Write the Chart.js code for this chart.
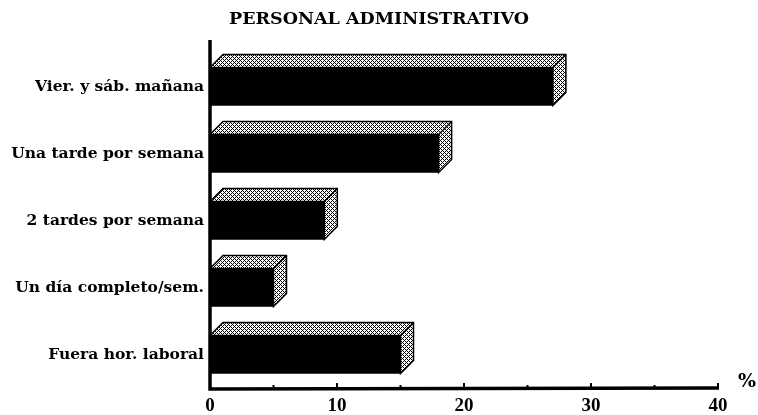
<!DOCTYPE html>
<html lang="es">
<head>
<meta charset="UTF-8">
<title>Personal administrativo</title>
<script src="https://cdn.jsdelivr.net/npm/chart.js@4.4.0/dist/chart.umd.min.js"></script>
<style>
  html, body { margin: 0; padding: 0; background: #fff; }
</style>
</head>
<body>
<canvas id="chart" width="758" height="415"></canvas>
<script>
// data
const categories = ["Vier. y sáb. mañana", "Una tarde por semana", "2 tardes por semana", "Un día completo/sem.", "Fuera hor. laboral"];
const values = [27, 18, 9, 5, 15];
const xTicks = [0, 10, 20, 30, 40];
const chartTitle = "PERSONAL ADMINISTRATIVO";
const unitLabel = "%";

const FONT = "'DejaVu Serif', serif";
const NUMFONT = "'Liberation Serif', 'Times New Roman', serif";
const DX = 13, DY = 13; // 3d depth offset

// halftone-ish fill for top/side faces
function makeHatch() {
  const c = document.createElement('canvas');
  c.width = 4; c.height = 4;
  const g = c.getContext('2d');
  g.fillStyle = '#fff';
  g.fillRect(0, 0, 4, 4);
  g.fillStyle = '#000';
  for (let x = 0; x < 4; x++) {
    for (let y = 0; y < 4; y++) {
      if ((x + y) % 4 === 0 || (x - y + 4) % 4 === 0) g.fillRect(x, y, 1, 1);
    }
  }
  return g.createPattern(c, 'repeat');
}
const hatch = makeHatch();

const box3d = {
  id: 'box3d',
  afterDatasetsDraw(chart) {
    const ctx = chart.ctx;
    const meta = chart.getDatasetMeta(0);
    meta.data.forEach(bar => {
      const p = bar.getProps(['x', 'y', 'base', 'height'], true);
      const top = p.y - p.height / 2, bot = p.y + p.height / 2;
      ctx.save();
      ctx.fillStyle = hatch;
      ctx.strokeStyle = '#000';
      ctx.lineWidth = 1.5;
      ctx.beginPath();
      ctx.moveTo(p.base, top);
      ctx.lineTo(p.base + DX, top - DY);
      ctx.lineTo(p.x + DX, top - DY);
      ctx.lineTo(p.x + DX, bot - DY);
      ctx.lineTo(p.x, bot);
      ctx.lineTo(p.x, top);
      ctx.closePath();
      ctx.fill();
      ctx.stroke();
      ctx.beginPath();
      ctx.moveTo(p.x, top);
      ctx.lineTo(p.x + DX, top - DY);
      ctx.stroke();
      ctx.restore();
    });
  },
  afterDraw(chart) {
    const ctx = chart.ctx;
    const area = chart.chartArea;
    const xs = chart.scales.x;
    ctx.save();
    // title, centred on the whole page like the scan
    ctx.fillStyle = '#000';
    ctx.font = 'bold 17.5px ' + FONT;
    ctx.textAlign = 'center';
    ctx.textBaseline = 'middle';
    ctx.fillText(chartTitle, chart.width / 2, 19);

    ctx.strokeStyle = '#000';
    ctx.lineWidth = 3.5;
    ctx.beginPath();
    ctx.moveTo(area.left, area.top - DY);
    ctx.lineTo(area.left, area.bottom + 1);
    ctx.lineTo(area.right + 1, area.bottom);
    ctx.stroke();
    // small upward tick marks and minor dots
    ctx.lineWidth = 2;
    xTicks.forEach((v, i) => {
      const px = xs.getPixelForValue(v);
      if (i > 0) {
        ctx.beginPath();
        ctx.moveTo(px, area.bottom);
        ctx.lineTo(px, area.bottom - 5);
        ctx.stroke();
        const mid = xs.getPixelForValue((v + xTicks[i - 1]) / 2);
        ctx.fillRect(mid - 1, area.bottom - 3, 2, 2);
      }
    });
    ctx.font = 'bold 19px ' + FONT;
    ctx.textAlign = 'left';
    ctx.fillText(unitLabel, area.right + 20, area.bottom - 6);
    ctx.restore();
  }
};

new Chart(document.getElementById('chart'), {
  type: 'bar',
  data: {
    labels: categories,
    datasets: [{
      data: values,
      backgroundColor: '#000',
      borderWidth: 0,
      barThickness: 38
    }]
  },
  plugins: [box3d],
  options: {
    indexAxis: 'y',
    responsive: false,
    animation: false,
    layout: { padding: { left: 0, right: 40, top: 53, bottom: 0 } },
    plugins: {
      legend: { display: false },
      tooltip: { enabled: false },
      title: { display: false }
    },
    scales: {
      x: {
        min: 0,
        max: 40,
        afterFit(scale) { scale.height = 27; },
        afterBuildTicks(scale) { scale.ticks = xTicks.map(v => ({ value: v })); },
        grid: { display: false, drawTicks: false },
        border: { display: false },
        ticks: {
          color: '#000',
          padding: 7,
          maxRotation: 0,
          font: { family: NUMFONT, size: 19, weight: 'bold' }
        }
      },
      y: {
        afterFit(scale) { scale.width = 210; },
        grid: { display: false, drawTicks: false },
        border: { display: false },
        ticks: {
          color: '#000',
          padding: 6,
          font: { family: FONT, size: 15.5, weight: 'bold' }
        }
      }
    }
  }
});
</script>
</body>
</html>
